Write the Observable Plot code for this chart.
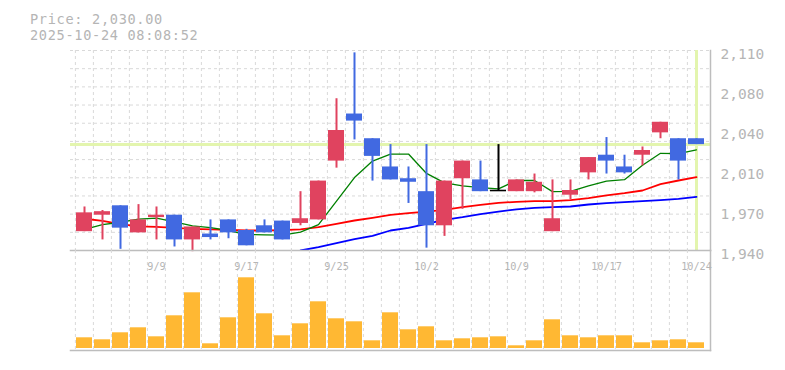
<!DOCTYPE html>
<html><head><meta charset="utf-8">
<script src="https://cdn.jsdelivr.net/npm/d3@7"></script>
<script src="https://cdn.jsdelivr.net/npm/@observablehq/plot@0.6"></script>
<style>
body{margin:0;background:#fff;}
#wrap{position:relative;width:785px;height:370px;overflow:hidden;font-family:"DejaVu Sans Mono",monospace;}
.t{position:absolute;left:30px;font-size:13.6px;letter-spacing:0.68px;line-height:16px;height:16px;color:#b5b5b5;white-space:pre;}
#price,#vol{position:absolute;left:0;}
#price{top:0;} #vol{top:250px;}
</style></head><body>
<div id="wrap">
<div id="price"></div><div id="vol"></div>
<div class="t" id="t1" style="top:10.5px"></div>
<div class="t" id="t2" style="top:26.5px"></div>
</div>
<script>
const titleText = "Price: 2,030.00";
const timeText = "2025-10-24 08:08:52";
const currentPrice = 2030;

const dates = ["9/3","9/4","9/5","9/8","9/9","9/10","9/11","9/12","9/16","9/17","9/18","9/19","9/22","9/24","9/25","9/26","9/29","9/30","10/1","10/2","10/3","10/6","10/7","10/8","10/9","10/10","10/14","10/15","10/16","10/17","10/20","10/21","10/22","10/23","10/24"];
const open  = [1956,1970,1978,1955,1968,1970,1949,1954,1966,1957,1961,1965,1963,1966,2016,2056,2035,2011,2001,1990,1961,2001,2000,1991,1990,1990,1956,1987,2006,2021,2011,2021,2040,2035,2035];
const high  = [1977,1974,1978,1979,1977,1970,1960,1966,1966,1958,1966,1965,1990,1999,2069,2108,2035,2030,2011,2030,1999,2016,2016,2030,2000,2005,2000,2000,2019,2036,2021,2028,2049,2035,2035];
const low   = [1956,1949,1941,1955,1949,1943,1939,1949,1950,1944,1955,1949,1961,1966,2010,2034,1999,2000,1980,1942,1952,1975,1990,1991,1990,1989,1956,1983,2000,2005,2005,2012,2035,2000,2030];
const close = [1972,1973,1959,1966,1970,1949,1960,1951,1955,1944,1955,1949,1967,1999,2042,2050,2020,2000,1998,1961,1999,2016,1990,1991,2000,1998,1967,1991,2019,2016,2006,2025,2049,2016,2030];
const ma5   = [1958,1962,1964,1966.6,1967.5,1964.4,1961,1959.5,1957,1953.6,1953.3,1953,1955.6,1962,1982,2002,2016,2022,2022,2005.5,1997.5,1995,1993.5,1992.4,1999.5,1999.5,1990,1990.2,1995,1999,2000.2,2012.5,2022.6,2022.3,2025.6];
const ma25  = [1967,1965.2,1962.4,1960.5,1960.1,1959.3,1958.4,1957.9,1957.6,1957,1957,1957.3,1957.9,1959.8,1962.7,1965.5,1967.8,1970.3,1971.7,1973.1,1974.6,1976.8,1978.8,1980.5,1981.4,1981.9,1981.9,1982.8,1984.5,1986.8,1988.7,1991,1996.5,1999.5,2002.3];
const ma75  = [null,null,null,null,null,null,null,null,null,null,null,null,1940,1942.8,1946.2,1949.6,1952.5,1957,1959.3,1962.7,1966,1968.3,1971,1973,1975,1976.3,1976.8,1977.4,1979.1,1980.2,1981.1,1981.9,1982.8,1983.9,1985.6];
const volume = [10.7,8.7,15.7,20.7,11.7,32.7,55.7,4.7,30.7,70.7,34.7,12.7,24.7,46.7,29.7,26.7,7.7,35.7,18.7,21.7,7.7,9.7,10.7,11.7,2.7,7.7,28.7,12.7,10.7,12.7,12.7,5.7,7.7,8.7,5.7];

const tickDates = ["9/9","9/17","9/25","10/2","10/9","10/17","10/24"];
const priceTicks = [1940,1974,2008,2042,2076,2110];
const priceTickLabels = ["1,940","1,970","2,010","2,040","2,080","2,110"];

document.getElementById("t1").textContent = titleText;
document.getElementById("t2").textContent = timeText;

const UP = "#e0435f", DOWN = "#4169e1", EVEN = "#000000";
const rows = dates.map((d,i)=>({date:d, open:open[i], high:high[i], low:low[i], close:close[i], ma5:ma5[i], ma25:ma25[i], ma75:ma75[i], volume:volume[i]}));
const col = d => d.close > d.open ? UP : d.close < d.open ? DOWN : EVEN;
const bodies = rows.filter(d => d.close !== d.open);
const dojis = rows.filter(d => d.close === d.open);

const GRID = "#d9d9d9", FRAME = "#bdbdbd", TXT = "#b5b5b5", CUR = "#e3f5ae";
const gridY = d3.range(12).map(k => 1940 + k * 170 / 11);
const xOpt = {type:"band", domain:dates, range:[70.6,709], paddingInner:0.125, paddingOuter:0.0625, axis:null};
const font = "DejaVu Sans Mono, monospace";

const price = Plot.plot({
  width:785, height:256, marginTop:50, marginBottom:6, marginLeft:70, marginRight:75,
  x: xOpt,
  y: {domain:[1940,2110], axis:null},
  color: {type:"identity"},
  style: {fontFamily:font, background:"transparent", overflow:"visible"},
  marks: [
    Plot.ruleY(gridY, {stroke:GRID, strokeDasharray:"3,3"}),
    Plot.ruleX(dates, {x:d=>d, dx:-9.12, stroke:GRID, strokeDasharray:"3,3"}),
    Plot.ruleY([currentPrice], {stroke:CUR, strokeWidth:3}),
    Plot.ruleX([dates[dates.length-1]], {stroke:CUR, strokeWidth:3}),
    Plot.line(rows, {x:"date", y:"ma75", stroke:"#0000ff", strokeWidth:1.8, clip:true}),
    Plot.line(rows, {x:"date", y:"ma25", stroke:"#ff0000", strokeWidth:1.8}),
    Plot.line(rows, {x:"date", y:"ma5", stroke:"#008000", strokeWidth:1.3}),
    Plot.ruleX(rows, {x:"date", y1:"low", y2:"high", stroke:col, strokeWidth:2}),
    Plot.barY(bodies, {x:"date", y1:"open", y2:"close", fill:col}),
    Plot.tickY(dojis, {x:"date", y:"close", stroke:EVEN, strokeWidth:1.6}),
    Plot.frame({anchor:"bottom", stroke:FRAME, strokeWidth:1.5}),
    Plot.frame({anchor:"right", stroke:FRAME, strokeWidth:1.5}),
    Plot.axisY({anchor:"right", ticks:priceTicks, tickFormat:(d,i)=>priceTickLabels[i], tickSize:0, tickPadding:10, fontSize:14.5, fill:TXT, dy:3.5})
  ]
});
document.getElementById("price").appendChild(price);

const vol = Plot.plot({
  width:785, height:110, marginTop:0, marginBottom:10, marginLeft:70, marginRight:75,
  x: xOpt,
  y: {domain:[0,80], range:[98,18], axis:null},
  style: {fontFamily:font, background:"transparent", overflow:"visible"},
  marks: [
    Plot.ruleX(dates, {x:d=>d, dx:-9.12, stroke:GRID, strokeDasharray:"3,3"}),
    Plot.barY(rows, {x:"date", y:"volume", fill:"#ffb833"}),
    Plot.frame({anchor:"bottom", stroke:FRAME, strokeWidth:1.5}),
    Plot.frame({anchor:"right", stroke:FRAME, strokeWidth:1.5}),
    Plot.text(tickDates, {x:d=>d, frameAnchor:"top", dy:12, fontSize:10.2, fill:TXT})
  ]
});
document.getElementById("vol").appendChild(vol);
</script>
</body></html>
